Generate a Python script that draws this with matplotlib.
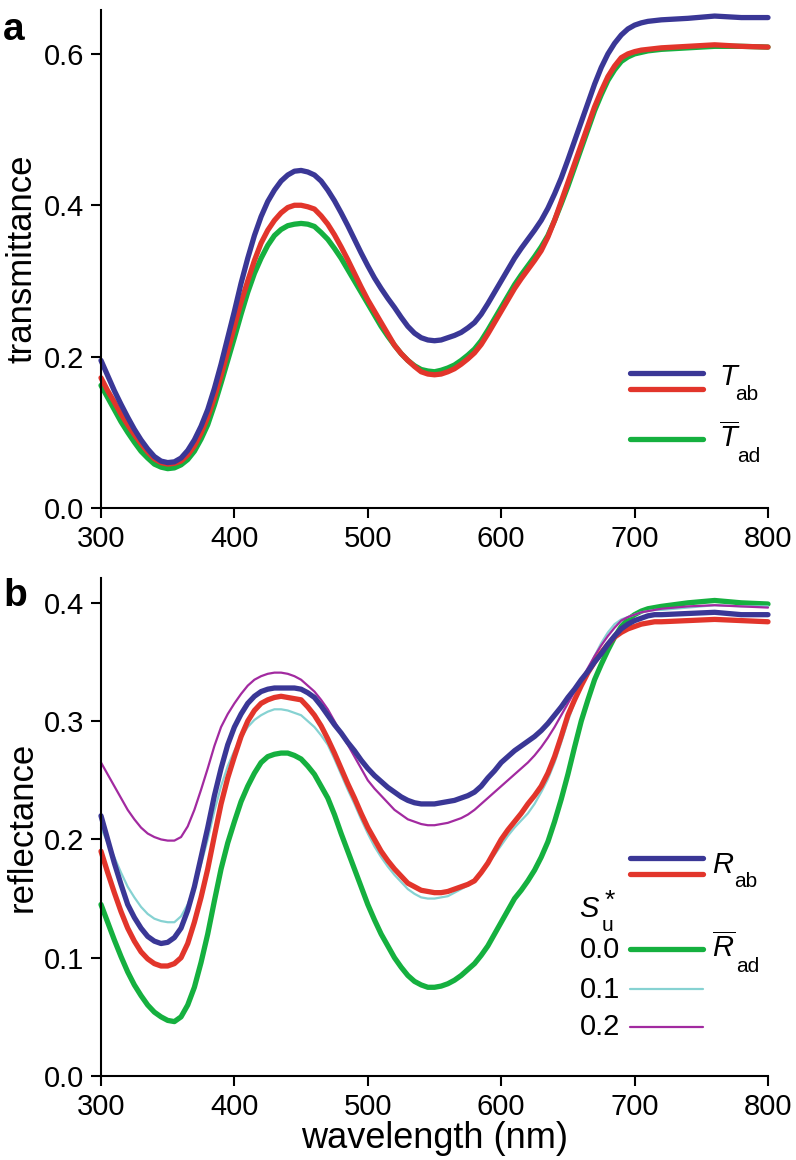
import matplotlib
matplotlib.use("Agg")
import matplotlib.pyplot as plt
from matplotlib.lines import Line2D

plt.rcParams['font.family'] = ['Liberation Sans', 'DejaVu Sans']
plt.rcParams['mathtext.fontset'] = 'custom'
plt.rcParams['mathtext.rm'] = 'Liberation Sans'
plt.rcParams['mathtext.it'] = 'Liberation Sans:italic'

# ---------------- data ----------------
wl = [300, 305, 310, 315, 320, 325, 330, 335, 340, 345, 350, 355, 360, 365, 370,
      375, 380, 385, 390, 395, 400, 405, 410, 415, 420, 425, 430, 435, 440, 445,
      450, 455, 460, 465, 470, 475, 480, 485, 490, 495, 500, 505, 510, 515, 520,
      525, 530, 535, 540, 545, 550, 555, 560, 565, 570, 575, 580, 585, 590, 595,
      600, 605, 610, 615, 620, 625, 630, 635, 640, 645, 650, 655, 660, 665, 670,
      675, 680, 685, 690, 695, 700, 705, 710, 715, 720, 740, 760, 780, 800]

T_ab_blue = [.195, .175, .155, .137, .12, .104, .09, .078, .068, .062, .060, .061, .066, .076, .09,
             .108, .13, .158, .19, .225, .26, .297, .33, .36, .385, .405, .42, .432, .44, .445,
             .446, .444, .44, .432, .42, .406, .39, .373, .355, .337, .32, .304, .29, .277, .265,
             .252, .24, .231, .225, .222, .221, .222, .225, .228, .232, .238, .245, .256, .27, .285,
             .30, .315, .33, .343, .355, .367, .38, .396, .415, .436, .46, .485, .51, .535, .56,
             .582, .60, .614, .625, .633, .638, .641, .643, .644, .645, .647, .65, .648, .648]
T_ab_red = [.172, .155, .14, .124, .11, .097, .085, .074, .065, .060, .058, .059, .062, .07, .082,
            .099, .12, .146, .175, .207, .24, .272, .30, .327, .35, .367, .38, .39, .397, .40,
            .40, .398, .395, .386, .375, .361, .345, .328, .31, .292, .275, .26, .245, .23, .215,
            .204, .195, .187, .18, .177, .176, .177, .18, .184, .19, .197, .205, .216, .23, .245,
            .26, .275, .29, .303, .315, .327, .34, .358, .38, .405, .43, .455, .48, .505, .53,
            .551, .57, .584, .595, .60, .603, .605, .606, .607, .608, .61, .612, .61, .609]
T_ad_green = [.162, .146, .13, .114, .10, .087, .075, .066, .058, .054, .052, .053, .057, .064, .075,
              .091, .11, .136, .165, .195, .225, .256, .285, .31, .33, .347, .36, .368, .373, .375,
              .376, .375, .372, .364, .355, .343, .33, .315, .30, .285, .27, .255, .24, .227, .215,
              .204, .195, .188, .183, .181, .18, .182, .185, .189, .195, .202, .21, .221, .235, .25,
              .265, .28, .295, .308, .32, .332, .345, .36, .38, .402, .425, .45, .475, .50, .525,
              .546, .565, .579, .59, .596, .60, .602, .604, .605, .606, .608, .61, .61, .609]

R_ab_blue = [.22, .20, .18, .162, .145, .134, .125, .118, .114, .112, .113, .117, .125, .14, .16,
             .185, .21, .237, .26, .28, .295, .306, .315, .321, .325, .327, .328, .328, .328, .328,
             .327, .324, .32, .313, .305, .297, .29, .282, .275, .267, .26, .254, .249, .244, .24,
             .236, .233, .231, .23, .23, .23, .231, .232, .233, .235, .237, .24, .245, .252, .258,
             .265, .27, .275, .279, .283, .287, .292, .298, .305, .312, .32, .327, .335, .342, .35,
             .357, .365, .372, .378, .382, .385, .387, .389, .39, .39, .391, .392, .39, .39]
R_ab_red = [.19, .172, .155, .139, .125, .114, .105, .099, .095, .093, .093, .095, .10, .112, .13,
            .151, .175, .203, .23, .252, .27, .287, .30, .309, .315, .318, .32, .321, .32, .319,
            .318, .312, .305, .296, .285, .273, .26, .247, .235, .222, .21, .20, .19, .182, .175,
            .169, .163, .16, .157, .156, .155, .155, .156, .158, .16, .162, .165, .172, .18, .19,
            .20, .208, .215, .222, .23, .237, .245, .256, .27, .287, .305, .318, .33, .341, .35,
            .358, .365, .371, .375, .378, .38, .382, .383, .384, .384, .385, .386, .385, .384]
R_ad_s00 = [.145, .13, .115, .101, .088, .077, .068, .06, .054, .05, .047, .046, .05, .06, .075,
            .096, .12, .148, .175, .197, .215, .232, .245, .256, .265, .27, .272, .273, .273, .271,
            .268, .262, .255, .245, .235, .221, .205, .19, .175, .16, .145, .132, .12, .11, .10,
            .092, .085, .08, .077, .075, .075, .076, .078, .081, .085, .09, .095, .102, .11, .12,
            .13, .14, .15, .157, .165, .174, .185, .198, .215, .234, .255, .278, .30, .318, .335,
            .348, .36, .371, .38, .386, .39, .393, .395, .396, .397, .40, .402, .40, .399]
R_ad_s01 = [.21, .197, .185, .172, .16, .151, .143, .137, .133, .131, .13, .13, .135, .145, .16,
            .179, .20, .224, .245, .262, .275, .286, .295, .301, .305, .308, .31, .31, .309, .307,
            .305, .30, .295, .288, .28, .268, .255, .242, .23, .217, .205, .194, .185, .177, .17,
            .164, .158, .154, .151, .15, .15, .151, .152, .155, .158, .161, .165, .172, .18, .187,
            .195, .203, .21, .216, .222, .23, .24, .251, .265, .282, .30, .316, .33, .343, .355,
            .366, .375, .382, .386, .388, .39, .392, .393, .394, .394, .396, .398, .397, .397]
R_ad_s02 = [.265, .255, .245, .235, .225, .217, .21, .205, .202, .20, .199, .199, .202, .211, .225,
            .242, .26, .279, .295, .306, .315, .323, .33, .335, .338, .34, .341, .341, .34, .338,
            .335, .33, .325, .318, .31, .30, .29, .28, .27, .26, .25, .243, .237, .231, .225,
            .221, .217, .215, .213, .212, .212, .213, .214, .216, .218, .221, .225, .23, .235, .24,
            .245, .25, .255, .26, .265, .271, .278, .286, .295, .305, .315, .325, .335, .345, .355,
            .364, .372, .379, .385, .388, .39, .392, .393, .394, .395, .397, .398, .397, .396]

x_ticks = [300, 400, 500, 600, 700, 800]
ya_ticks = [0.0, 0.2, 0.4, 0.6]
yb_ticks = [0.0, 0.1, 0.2, 0.3, 0.4]
su_labels = ['0.0', '0.1', '0.2']

# ---------------- style ----------------
BLUE = '#3a3796'
RED = '#e2352b'
GREEN = '#15b03f'
CYAN = '#86d2d2'
PURPLE = '#a22aa0'
THICK = 3.8
THIN = 1.6
TICKFS = 21

fig = plt.figure(figsize=(7.96, 11.6), dpi=100)
W, H = 796, 1160


def ax_rect(x0, x1, ytop, ybot):
    return [x0 / W, 1 - ybot / H, (x1 - x0) / W, (ybot - ytop) / H]


axa = fig.add_axes(ax_rect(101, 768, 10, 508))
axb = fig.add_axes(ax_rect(101, 768, 578, 1076))

for ax in (axa, axb):
    for s in ('top', 'right'):
        ax.spines[s].set_visible(False)
    for s in ('left', 'bottom'):
        ax.spines[s].set_linewidth(1.5)
    ax.tick_params(direction='out', length=7, width=1.5, pad=5, labelsize=TICKFS)
    ax.set_xlim(300, 800)
    ax.set_xticks(x_ticks)
    ax.set_xticklabels([str(v) for v in x_ticks])

kw = dict(solid_capstyle='round', solid_joinstyle='round', clip_on=False)

# panel a
axa.plot(wl, T_ad_green, color=GREEN, lw=THICK, **kw)
axa.plot(wl, T_ab_red, color=RED, lw=THICK, **kw)
axa.plot(wl, T_ab_blue, color=BLUE, lw=THICK, **kw)
axa.set_ylim(0, 0.658)
axa.set_yticks(ya_ticks)
axa.set_yticklabels([f'{v:.1f}' for v in ya_ticks])
axa.set_ylabel('transmittance', fontsize=25, labelpad=4)
fig.text(3 / W, 1 - 40 / H, 'a', fontsize=28, fontweight='bold', va='baseline')

# panel b
axb.plot(wl, R_ad_s00, color=GREEN, lw=THICK, **kw)
axb.plot(wl, R_ad_s01, color=CYAN, lw=THIN, **kw)
axb.plot(wl, R_ad_s02, color=PURPLE, lw=THIN, **kw)
axb.plot(wl, R_ab_red, color=RED, lw=THICK, **kw)
axb.plot(wl, R_ab_blue, color=BLUE, lw=THICK, **kw)
axb.set_ylim(0, 0.421)
axb.set_yticks(yb_ticks)
axb.set_yticklabels([f'{v:.1f}' for v in yb_ticks])
axb.set_ylabel('reflectance', fontsize=25, labelpad=4)
axb.set_xlabel('wavelength (nm)', fontsize=26, labelpad=0)
fig.text(3 / W, 1 - 606 / H, 'b', fontsize=28, fontweight='bold', va='baseline')


# ---------------- manual legends (figure pixel coords) ----------------
def hline(y, color, lw, x0=630, x1=703):
    fig.add_artist(Line2D([x0 / W, x1 / W], [1 - y / H, 1 - y / H],
                          color=color, lw=lw, solid_capstyle='round',
                          transform=fig.transFigure))


def ptext(x, y, s, **k):
    k.setdefault('va', 'baseline')
    k.setdefault('ha', 'left')
    fig.text(x / W, 1 - y / H, s, **k)


SYMFS = 21
SUBFS = 15

# panel a legend
hline(373, BLUE, THICK)
hline(389, RED, THICK)
hline(439, GREEN, THICK)
ptext(719, 385, 'T', fontsize=SYMFS, fontstyle='italic')
ptext(735, 400, 'ab', fontsize=SUBFS)
ptext(719, 447, r'$\overline{T}$', fontsize=SYMFS)
ptext(737, 462, 'ad', fontsize=SUBFS)

# panel b legend
hline(858, BLUE, THICK)
hline(874, RED, THICK)
hline(949, GREEN, THICK)
hline(989, CYAN, THIN)
hline(1027, PURPLE, THIN)
ptext(712, 873, 'R', fontsize=SYMFS, fontstyle='italic')
ptext(734, 887, 'ab', fontsize=SUBFS)
ptext(712, 957, r'$\overline{R}$', fontsize=SYMFS)
ptext(736, 972, 'ad', fontsize=SUBFS)
ptext(579, 917, 'S', fontsize=SYMFS, fontstyle='italic')
ptext(602, 931, 'u', fontsize=SUBFS)
ptext(605, 908, '*', fontsize=19)
for lab, y in zip(su_labels, [958, 998, 1035]):
    ptext(620, y, lab, fontsize=TICKFS, ha='right')

fig.savefig('out.png', dpi=100)
